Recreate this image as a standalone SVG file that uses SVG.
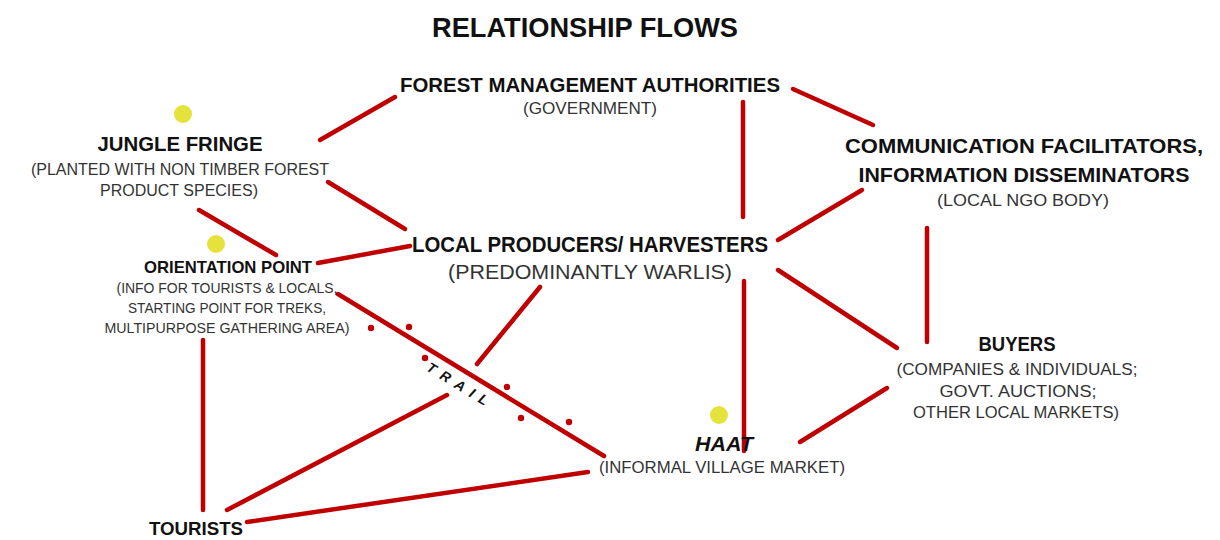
<svg xmlns="http://www.w3.org/2000/svg" width="1220" height="540" viewBox="0 0 1220 540">
<style>
.h{font-family:"Liberation Sans",Arial,sans-serif;font-weight:bold;fill:#111;text-anchor:middle}
.s{font-family:"Liberation Sans",Arial,sans-serif;fill:#333;text-anchor:middle}
.c line{stroke:#c00000;stroke-width:4.5;stroke-linecap:round}
.d{fill:#c00000}
.y{fill:#e6e23c}
</style>
<rect width="1220" height="540" fill="#fff"/>
<text class="h" x="585" y="37" font-size="28" textLength="306" lengthAdjust="spacingAndGlyphs">RELATIONSHIP FLOWS</text>
<g id="connectors" class="c">
<line x1="320" y1="140" x2="395" y2="97"/>
<line x1="793" y1="89" x2="873" y2="125"/>
<line x1="743" y1="102" x2="743" y2="217"/>
<line x1="328" y1="182" x2="405" y2="229"/>
<line x1="199" y1="210" x2="276" y2="255"/>
<line x1="318" y1="263" x2="410" y2="246"/>
<line x1="778" y1="240" x2="862" y2="190"/>
<line x1="927" y1="228" x2="927" y2="342"/>
<line x1="778" y1="270" x2="897" y2="348"/>
<line x1="744" y1="281" x2="744" y2="451"/>
<line x1="800" y1="442" x2="887" y2="388"/>
<line x1="540" y1="287" x2="477" y2="364"/>
<line x1="338" y1="294" x2="604" y2="456"/>
<line x1="447" y1="395" x2="227" y2="510"/>
<line x1="247" y1="522" x2="588" y2="472"/>
<line x1="203" y1="340" x2="203" y2="510"/>
</g>
<g id="trail">
<circle class="d" cx="371" cy="328" r="3.2"/>
<circle class="d" cx="409" cy="327" r="3.2"/>
<circle class="d" cx="425" cy="358" r="3.2"/>
<circle class="d" cx="507" cy="387" r="3.2"/>
<circle class="d" cx="521" cy="418" r="3.2"/>
<circle class="d" cx="569" cy="422" r="3.2"/>
<text class="h" x="461" y="389" font-size="14" letter-spacing="7" font-style="italic" transform="rotate(31.3 458 384)">TRAIL</text>
</g>
<g id="forest">
<text class="h" x="590" y="92" font-size="21" textLength="380" lengthAdjust="spacingAndGlyphs">FOREST MANAGEMENT AUTHORITIES</text>
<text class="s" x="590" y="114" font-size="16" textLength="134" lengthAdjust="spacingAndGlyphs">(GOVERNMENT)</text>
</g>
<g id="jungle">
<circle class="y" cx="183" cy="114" r="9"/>
<text class="h" x="180" y="151" font-size="21" textLength="165" lengthAdjust="spacingAndGlyphs">JUNGLE FRINGE</text>
<text class="s" x="180" y="175" font-size="16" textLength="298" lengthAdjust="spacingAndGlyphs">(PLANTED WITH NON TIMBER FOREST</text>
<text class="s" x="179" y="196" font-size="16" textLength="158" lengthAdjust="spacingAndGlyphs">PRODUCT SPECIES)</text>
</g>
<g id="orientation">
<circle class="y" cx="216" cy="244" r="9"/>
<text class="h" x="228" y="273" font-size="17" textLength="168" lengthAdjust="spacingAndGlyphs">ORIENTATION POINT</text>
<text class="s" x="227" y="293" font-size="14" textLength="221" lengthAdjust="spacingAndGlyphs">(INFO FOR TOURISTS &amp; LOCALS,</text>
<text class="s" x="227" y="313" font-size="14" textLength="198" lengthAdjust="spacingAndGlyphs">STARTING POINT FOR TREKS,</text>
<text class="s" x="227" y="333" font-size="14" textLength="245" lengthAdjust="spacingAndGlyphs">MULTIPURPOSE GATHERING AREA)</text>
</g>
<g id="local">
<text class="h" x="590" y="252" font-size="22" textLength="356" lengthAdjust="spacingAndGlyphs">LOCAL PRODUCERS/ HARVESTERS</text>
<text class="s" x="590" y="279" font-size="21" textLength="284" lengthAdjust="spacingAndGlyphs">(PREDOMINANTLY WARLIS)</text>
</g>
<g id="communication">
<text class="h" x="1024" y="153" font-size="21" textLength="358" lengthAdjust="spacingAndGlyphs">COMMUNICATION FACILITATORS,</text>
<text class="h" x="1024" y="182" font-size="21" textLength="331" lengthAdjust="spacingAndGlyphs">INFORMATION DISSEMINATORS</text>
<text class="s" x="1023" y="206" font-size="16" textLength="172" lengthAdjust="spacingAndGlyphs">(LOCAL NGO BODY)</text>
</g>
<g id="buyers">
<text class="h" x="1017" y="351" font-size="21" textLength="77" lengthAdjust="spacingAndGlyphs">BUYERS</text>
<text class="s" x="1017" y="375" font-size="16" textLength="241" lengthAdjust="spacingAndGlyphs">(COMPANIES &amp; INDIVIDUALS;</text>
<text class="s" x="1018" y="397" font-size="16" textLength="157" lengthAdjust="spacingAndGlyphs">GOVT. AUCTIONS;</text>
<text class="s" x="1016" y="418" font-size="16" textLength="206" lengthAdjust="spacingAndGlyphs">OTHER LOCAL MARKETS)</text>
</g>
<g id="haat">
<circle class="y" cx="719" cy="415" r="9"/>
<text class="h" x="724" y="451" font-size="21" font-style="italic" textLength="58" lengthAdjust="spacingAndGlyphs">HAAT</text>
<text class="s" x="722" y="473" font-size="16" textLength="246" lengthAdjust="spacingAndGlyphs">(INFORMAL VILLAGE MARKET)</text>
</g>
<g id="tourists">
<text class="h" x="196" y="535" font-size="19" textLength="94" lengthAdjust="spacingAndGlyphs">TOURISTS</text>
</g>
</svg>
